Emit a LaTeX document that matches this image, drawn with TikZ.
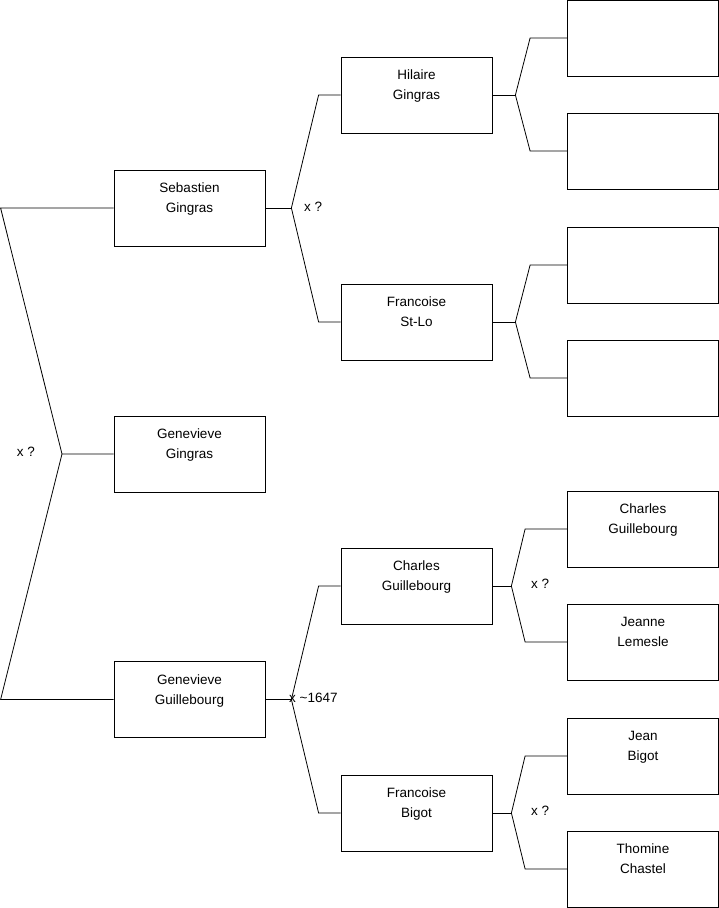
\documentclass[tikz,border=0pt]{standalone}
\usepackage{fontspec}
\setmainfont{Liberation Sans}
\usetikzlibrary{positioning}

\begin{document}
\begin{tikzpicture}[x=1pt, y=-1pt,
    person/.style={draw, line width=0.8pt, minimum width=151pt, minimum height=76pt,
        inner sep=0pt, align=center, font=\fontsize{13.5}{20}\selectfont},
    link/.style={line width=0.8pt},
    marr/.style={inner sep=0pt, anchor=west, font=\fontsize{13.5}{16}\selectfont}]
    \useasboundingbox (0,0) rectangle (719,908);

    % Child and parents
    \node[person] (sebastien) at (189.5,208) {Sebastien\\Gingras\\\mbox{}};
    \node[person] (genevieve) at (189.5,454) {Genevieve\\Gingras\\\mbox{}};
    \node[person] (guillebourg) at (189.5,699.5) {Genevieve\\Guillebourg\\\mbox{}};

    % Grandparents
    \node[person] (hilaire) at (416.5,95) {Hilaire\\Gingras\\\mbox{}};
    \node[person] (stlo) at (416.5,322) {Francoise\\St-Lo\\\mbox{}};
    \node[person] (charles) at (416.5,586) {Charles\\Guillebourg\\\mbox{}};
    \node[person] (bigot) at (416.5,813) {Francoise\\Bigot\\\mbox{}};

    % Great-grandparents
    \foreach \i/\y/\who in {1/38/{}, 2/151/{}, 3/265/{}, 4/378/{},
        5/529/{Charles\\Guillebourg\\\mbox{}}, 6/642/{Jeanne\\Lemesle\\\mbox{}},
        7/756/{Jean\\Bigot\\\mbox{}}, 8/869/{Thomine\\Chastel\\\mbox{}}} {
        \node[person] (r\i) at (643,\y) {\who};
    }

    % Marriage brackets
    \coordinate (j0) at (62,454);
    \draw[link] (sebastien.west) -- ([xshift=-113]sebastien.west) -- (j0) -- (genevieve.west);
    \draw[link] (j0) -- ([xshift=-113]guillebourg.west) -- (guillebourg.west);
    \node[marr, anchor=center] (m0) at (26,452) {x ?};

    \foreach \p/\a/\b/\d/\s in {sebastien/hilaire/stlo/26/22, guillebourg/charles/bigot/26/22,
        hilaire/r1/r2/23/37, stlo/r3/r4/23/37, charles/r5/r6/19/42, bigot/r7/r8/19/42} {
        \draw[link] (\p.east) -- ++(\d,0) coordinate (j\p);
        \draw[link] (j\p) -- ([xshift=-\s]\a.west) -- (\a.west);
        \draw[link] (j\p) -- ([xshift=-\s]\b.west) -- (\b.west);
    }

    \node[marr] (m1) at (304,207) {x ?};
    \node[marr] (m2) at (289,698) {x \textasciitilde1647};
    \node[marr] (m3) at (531,584) {x ?};
    \node[marr] (m4) at (531,811) {x ?};
\end{tikzpicture}
\end{document}
